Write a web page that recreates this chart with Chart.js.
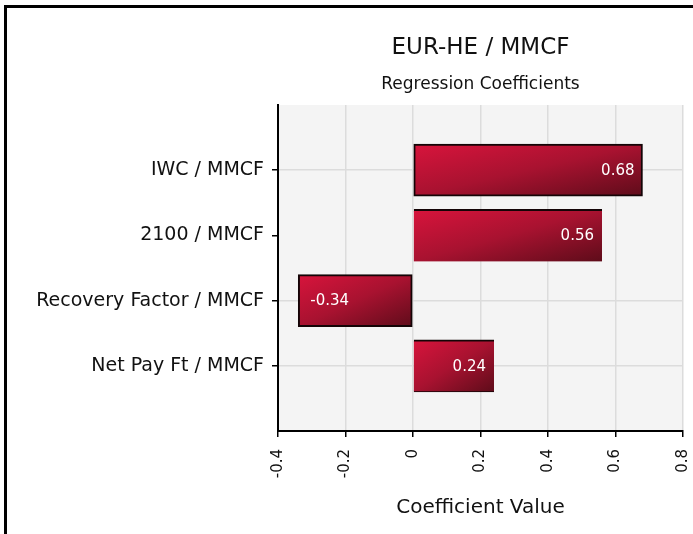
<!DOCTYPE html>
<html>
<head>
<meta charset="utf-8">
<script src="https://cdn.jsdelivr.net/npm/chart.js@4.4.1/dist/chart.umd.min.js"></script>
<style>
  html, body { margin: 0; padding: 0; background: #fff; }
  #wrap { position: relative; width: 693px; height: 534px; overflow: hidden; }
  #frame { position: absolute; left: 4px; top: 5px; width: 720px; height: 560px;
           border-left: 3px solid #000; border-top: 3px solid #000; }
  canvas { position: absolute; left: 0; top: 0; }
</style>
</head>
<body>
<div id="wrap">
  <div id="frame"></div>
  <canvas id="myChart" width="693" height="534"></canvas>
</div>
<script>
// --------------------------------------------------------------------------------------------------------
// regression coefficients, horizontal bars

let categories = ["IWC / MMCF", "2100 / MMCF", "Recovery Factor / MMCF", "Net Pay Ft / MMCF"];
let coefValues = [0.68, 0.56, -0.34, 0.24];
let xTicks = [-0.4, -0.2, 0, 0.2, 0.4, 0.6, 0.8];

let fontFamily = "'DejaVu Sans', Verdana, sans-serif";

// bars sit at 1..n on a linear index axis running 0..n+1
let points = coefValues.map((v, i) => ({ x: v, y: i + 1 }));

let barBorders = [
  { top: 2, right: 2, bottom: 2, left: 2 },
  { top: 2, right: 0, bottom: 0, left: 0 },
  { top: 2, right: 2, bottom: 2, left: 2 },
  { top: 2, right: 0, bottom: 1, left: 0 }
];

// corner-to-corner shading: bright top-left, dark bottom-right
function barGradient(ctx) {
  let chart = ctx.chart;
  let xs = chart.scales.x, ys = chart.scales.y;
  if (!xs || !ys || ctx.type !== "data") return "#b0122f";
  let p = ctx.raw;
  let x0 = xs.getPixelForValue(0), x1 = xs.getPixelForValue(p.x);
  let yc = ys.getPixelForValue(p.y);
  if (![x0, x1, yc].every(Number.isFinite)) return "#b0122f";
  let left = Math.min(x0, x1), w = Math.abs(x1 - x0), h = 52, top = yc - h / 2;
  let k = 2 * w * h / (w * w + h * h);
  let g = chart.ctx.createLinearGradient(left, top, left + h * k, top + w * k);
  g.addColorStop(0, "#d8143c");
  g.addColorStop(0.5, "#a81230");
  g.addColorStop(1, "#5e0c1a");
  return g;
}

// grey plotting area
const plotBackground = {
  id: "plotBackground",
  beforeDraw(chart) {
    let { ctx, chartArea: a } = chart;
    ctx.save();
    ctx.fillStyle = "#f4f4f4";
    ctx.fillRect(a.left, a.top, a.right - a.left, a.bottom - a.top);
    ctx.restore();
  }
};

// value written inside the end of each bar
const valueLabels = {
  id: "valueLabels",
  afterDatasetsDraw(chart) {
    let ctx = chart.ctx;
    let meta = chart.getDatasetMeta(0);
    ctx.save();
    ctx.font = "15px " + fontFamily;
    ctx.fillStyle = "#ffffff";
    ctx.textBaseline = "middle";
    meta.data.forEach((bar, i) => {
      let v = coefValues[i];
      let txt = v.toFixed(2);
      if (v >= 0) {
        ctx.textAlign = "right";
        ctx.fillText(txt, bar.x - 8, bar.y + 1);
      } else {
        ctx.textAlign = "left";
        ctx.fillText(txt, bar.x + 12, bar.y + 1);
      }
    });
    ctx.restore();
  }
};

new Chart("myChart", {
  type: "bar",
  data: {
    datasets: [{
      data: points,
      backgroundColor: barGradient,
      borderColor: "#140406",
      borderWidth: barBorders,
      borderSkipped: false,
      barThickness: 52
    }]
  },
  plugins: [plotBackground, valueLabels],
  options: {
    indexAxis: "y",
    responsive: false,
    animation: false,
    layout: { padding: { left: 0, right: 10, top: 0, bottom: 0 } },
    plugins: {
      legend: { display: false },
      tooltip: { enabled: false },
      title: {
        display: true,
        text: "EUR-HE / MMCF",
        fullSize: false,
        color: "#111",
        font: { family: fontFamily, size: 23, weight: "normal" },
        padding: { top: 34, bottom: 0 }
      },
      subtitle: {
        display: true,
        text: "Regression Coefficients",
        fullSize: false,
        color: "#111",
        font: { family: fontFamily, size: 17, weight: "normal" },
        padding: { top: 13, bottom: 10 }
      }
    },
    scales: {
      x: {
        type: "linear",
        min: -0.4,
        max: 0.8,
        afterBuildTicks: (scale) => { scale.ticks = xTicks.map(v => ({ value: v })); },
        afterFit: (scale) => { scale.height = 103; scale.paddingLeft = 0; scale.paddingRight = 0; },
        ticks: {
          minRotation: 90,
          maxRotation: 90,
          padding: 12,
          color: "#111",
          font: { family: fontFamily, size: 15 },
          callback: (v) => String(Math.round(v * 10) / 10)
        },
        grid: { color: "#dcdcdc", lineWidth: 1.5, tickColor: "#000", tickLength: 6 },
        border: { color: "#000", width: 2 },
        title: {
          display: true,
          text: "Coefficient Value",
          color: "#111",
          font: { family: fontFamily, size: 20 },
          padding: { top: 0, bottom: 14 }
        }
      },
      y: {
        type: "linear",
        min: 0,
        max: categories.length + 1,
        reverse: true,
        offset: false,
        afterBuildTicks: (scale) => { scale.ticks = categories.map((c, i) => ({ value: i + 1 })); },
        afterFit: (scale) => { scale.width = 278; scale.paddingTop = 0; scale.paddingBottom = 0; },
        ticks: {
          padding: 8,
          color: "#111",
          font: { family: fontFamily, size: 19 },
          callback: (v) => categories[v - 1]
        },
        grid: {
          offset: false,
          color: (ctx) => ctx.index === 1 ? "rgba(0,0,0,0)" : "#dcdcdc",
          lineWidth: 1.5,
          tickColor: "#000",
          tickLength: 6
        },
        border: { color: "#000", width: 2 }
      }
    }
  }
});
</script>
</body>
</html>
